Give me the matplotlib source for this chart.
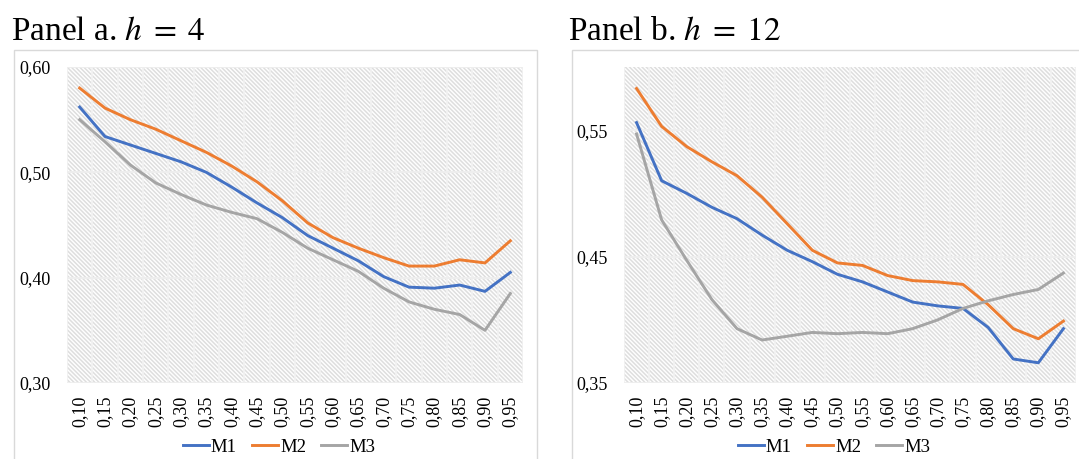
import matplotlib
matplotlib.use("Agg")
import matplotlib.pyplot as plt
from matplotlib.patches import Rectangle
import numpy as np

plt.rcParams['font.family'] = ['Liberation Serif', 'DejaVu Serif']
plt.rcParams['mathtext.fontset'] = 'stix'
plt.rcParams['hatch.linewidth'] = 1.1

categories = ["0,10", "0,15", "0,20", "0,25", "0,30", "0,35", "0,40", "0,45", "0,50",
              "0,55", "0,60", "0,65", "0,70", "0,75", "0,80", "0,85", "0,90", "0,95"]

# Panel a, h = 4
a_m1 = [0.562, 0.534, 0.526, 0.518, 0.510, 0.500, 0.486, 0.471, 0.457, 0.440,
        0.428, 0.416, 0.401, 0.391, 0.390, 0.393, 0.387, 0.405]
a_m2 = [0.580, 0.561, 0.550, 0.541, 0.530, 0.519, 0.506, 0.491, 0.473, 0.452,
        0.438, 0.428, 0.419, 0.411, 0.411, 0.417, 0.414, 0.435]
a_m3 = [0.550, 0.529, 0.507, 0.490, 0.479, 0.469, 0.462, 0.456, 0.443, 0.428,
        0.417, 0.406, 0.390, 0.377, 0.370, 0.365, 0.350, 0.385]

# Panel b, h = 12
b_m1 = [0.556, 0.510, 0.500, 0.489, 0.480, 0.467, 0.455, 0.446, 0.436, 0.430,
        0.422, 0.414, 0.411, 0.409, 0.394, 0.369, 0.366, 0.393]
b_m2 = [0.583, 0.553, 0.537, 0.525, 0.514, 0.497, 0.476, 0.455, 0.445, 0.443,
        0.435, 0.431, 0.430, 0.428, 0.412, 0.393, 0.385, 0.399]
b_m3 = [0.547, 0.479, 0.447, 0.416, 0.393, 0.384, 0.387, 0.390, 0.389, 0.390,
        0.389, 0.393, 0.400, 0.409, 0.415, 0.420, 0.424, 0.437]

a_yticks = [0.30, 0.40, 0.50, 0.60]
a_ylabels = ["0,30", "0,40", "0,50", "0,60"]
b_yticks = [0.35, 0.45, 0.55]
b_ylabels = ["0,35", "0,45", "0,55"]

series_names = ["M1", "M2", "M3"]
colors = ["#4472C4", "#ED7D31", "#A5A5A5"]

W, H = 1079, 459
fig = plt.figure(figsize=(W / 100, H / 100), dpi=100)


def px_rect(x0, y0, x1, y1):
    return [x0 / W, (H - y1) / H, (x1 - x0) / W, (y1 - y0) / H]


# chart area borders
for (x0, x1) in [(14, 537), (572, 1095)]:
    fig.patches.append(Rectangle((x0 / W, (H - 475) / H), (x1 - x0) / W, (475 - 50) / H,
                                 transform=fig.transFigure, facecolor='none',
                                 edgecolor='#d9d9d9', linewidth=1.0, zorder=0))


def draw_panel(rect, title, title_x, series, yticks, ylabels, ylim, legend_x):
    ax = fig.add_axes(px_rect(*rect))
    ax.set_facecolor('white')
    bg = Rectangle((0, 0), 1, 1, transform=ax.transAxes, facecolor='white',
                   edgecolor='#dedede', hatch='\\' * 8, linewidth=0, zorder=0)
    ax.add_patch(bg)
    x = np.arange(len(categories))
    for b in np.arange(len(categories) + 1) - 0.5:
        ax.axvline(b, color='#f2f2f2', lw=1.2, zorder=1)
    for t in yticks:
        ax.axhline(t, color='#eeeeee', lw=1.3, zorder=1)
    handles = []
    for vals, c, name in zip(series, colors, series_names):
        h, = ax.plot(x, vals, color=c, lw=2.1, solid_joinstyle='round', zorder=3, label=name)
        handles.append(h)
    ax.set_xlim(-0.5, len(categories) - 0.5)
    ax.set_ylim(*ylim)
    ax.set_yticks(yticks)
    ax.set_yticklabels(ylabels, fontsize=13)
    ax.set_xticks(x)
    ax.set_xticklabels(categories, rotation=90, fontsize=13)
    ax.tick_params(axis='both', length=0)
    ax.tick_params(axis='y', pad=12)
    ax.tick_params(axis='x', pad=9)
    for s in ax.spines.values():
        s.set_visible(False)
    fig.text(title_x / W, (H - 40) / H, title, fontsize=24, ha='left', va='baseline')
    fig.legend(handles=handles, loc='center', bbox_to_anchor=(legend_x / W, (H - 447) / H),
               ncol=3, frameon=False, fontsize=13.5, handlelength=1.4, handletextpad=0.1,
               columnspacing=0.8)
    return ax


draw_panel((67, 67, 523, 383), r"Panel a. $h\;=\;4$", 11,
           [a_m1, a_m2, a_m3], a_yticks, a_ylabels, (0.30, 0.60), 279)
draw_panel((624, 67, 1076, 383), r"Panel b. $h\;=\;12$", 568,
           [b_m1, b_m2, b_m3], b_yticks, b_ylabels, (0.35, 0.60), 834)

fig.savefig("out.png", dpi=100)
